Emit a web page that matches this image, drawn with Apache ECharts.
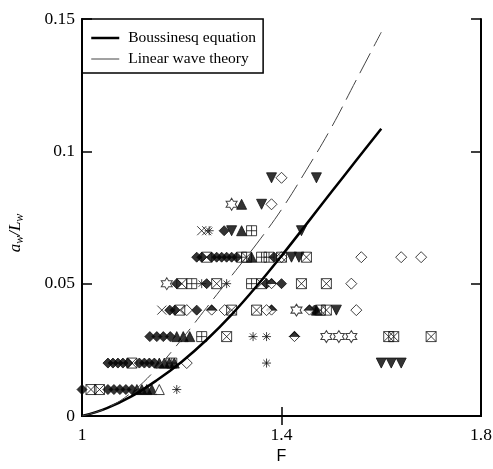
<!DOCTYPE html>
<html>
<head>
<meta charset="utf-8">
<script src="https://cdn.jsdelivr.net/npm/echarts@6/dist/echarts.min.js"></script>
<style>
  html, body { margin: 0; padding: 0; background: #fff; }
  #chart { width: 493px; height: 469px; }
</style>
</head>
<body>
<div id="chart"></div>
<script>
// curves
const curveF = [1, 1.05, 1.1, 1.15, 1.2, 1.25, 1.3, 1.35, 1.4, 1.45, 1.5, 1.55, 1.6];
const boussinesqA = [0, 0.003, 0.0075, 0.0135, 0.0205, 0.0288, 0.0383, 0.049, 0.0605, 0.0725, 0.0846, 0.0966, 0.1085];
const linearA = [0, 0.003, 0.009, 0.018, 0.029, 0.041, 0.053, 0.065, 0.078, 0.093, 0.109, 0.127, 0.145];

// measured points [F, aw/Lw], one list per marker
const diamondFilled = [
  [1.0, .01], [1.052, .01], [1.064, .01], [1.076, .01], [1.088, .01], [1.10, .01],
  [1.052, .02], [1.062, .02], [1.072, .02], [1.082, .02], [1.092, .02], [1.115, .02], [1.125, .02], [1.135, .02], [1.145, .02],
  [1.136, .03], [1.15, .03], [1.163, .03], [1.177, .03],
  [1.176, .04], [1.186, .04], [1.23, .04], [1.466, .04],
  [1.19, .05], [1.25, .05], [1.37, .05], [1.40, .05],
  [1.23, .06], [1.24, .06], [1.26, .06], [1.27, .06], [1.28, .06], [1.29, .06], [1.30, .06], [1.31, .06], [1.385, .06],
  [1.285, .07]
];
const diamondHalf = [[1.426, .03], [1.26, .04], [1.38, .04], [1.456, .04], [1.38, .05]];
const diamondOpen = [
  [1.21, .02], [1.21, .04], [1.286, .04], [1.37, .04], [1.55, .04], [1.54, .05],
  [1.40, .06], [1.56, .06], [1.64, .06], [1.68, .06], [1.38, .08], [1.40, .09]
];
const boxCross = [
  [1.018, .01], [1.035, .01], [1.10, .02],
  [1.29, .03], [1.615, .03], [1.625, .03], [1.70, .03],
  [1.196, .04], [1.30, .04], [1.35, .04], [1.478, .04], [1.49, .04],
  [1.20, .05], [1.27, .05], [1.36, .05], [1.44, .05], [1.49, .05],
  [1.25, .06], [1.33, .06], [1.40, .06], [1.45, .06]
];
const boxPlus = [[1.18, .02], [1.24, .03], [1.22, .05], [1.34, .05], [1.32, .06], [1.36, .06], [1.375, .06], [1.34, .07]];
const triUp = [
  [1.11, .01], [1.12, .01], [1.13, .01], [1.14, .01],
  [1.155, .02], [1.165, .02], [1.175, .02], [1.185, .02],
  [1.19, .03], [1.203, .03], [1.216, .03],
  [1.47, .04], [1.34, .06], [1.32, .07], [1.32, .08]
];
const triUpOpen = [[1.155, .01]];
const triDown = [
  [1.60, .02], [1.62, .02], [1.64, .02], [1.51, .04], [1.42, .06], [1.435, .06],
  [1.30, .07], [1.44, .07], [1.36, .08], [1.38, .09], [1.47, .09]
];
const hexStar = [[1.49, .03], [1.515, .03], [1.54, .03], [1.43, .04], [1.17, .05], [1.30, .08]];
const asterisk = [[1.19, .01], [1.37, .02], [1.343, .03], [1.37, .03], [1.24, .05], [1.29, .05], [1.255, .07]];
const crossX = [[1.16, .04], [1.24, .07], [1.25, .07]];

const xLabels = [1, 1.4, 1.8];

const P = {
  diamond: 'path://M5,0L10,5L5,10L0,5Z',
  diamondTop: 'path://M0,5L5,0L10,5Z',
  triangle: 'path://M5,0L10,10L0,10Z',
  boxX: 'path://M0,0H10V10H0Z M0,0L10,10 M10,0L0,10',
  boxPlus: 'path://M0,0H10V10H0Z M5,0V10 M0,5H10',
  star: 'path://M10,0L12.887,5L18.66,5L15.77,10L18.66,15L12.887,15L10,20L7.113,15L1.34,15L4.23,10L1.34,5L7.113,5Z',
  asterisk: 'path://M5,0V10 M0,5H10 M1.5,1.5L8.5,8.5 M8.5,1.5L1.5,8.5',
  cross: 'path://M0,0L10,10 M10,0L0,10'
};

function scatter(data, symbol, size, fill, extra) {
  return Object.assign({
    type: 'scatter',
    data: data,
    symbol: symbol,
    symbolSize: size,
    itemStyle: { color: fill, borderColor: '#111', borderWidth: 1 },
    emphasis: { disabled: true },
    z: 3
  }, extra || {});
}

function pairs(xs, ys) {
  return xs.map((x, i) => [x, ys[i]]);
}

const chart = echarts.init(document.getElementById('chart'));

const serif = 'Liberation Serif';

chart.setOption({
  animation: false,
  backgroundColor: '#fff',
  grid: { left: 82, right: 12, top: 19, bottom: 53, outerBoundsMode: 'none' },
  legend: {
    left: 82,
    top: 19,
    orient: 'vertical',
    borderColor: '#000',
    borderWidth: 1.5,
    padding: [11, 7, 6, 8],
    itemGap: 5,
    itemWidth: 28,
    itemHeight: 14,
    textStyle: { fontFamily: serif, fontSize: 15.5, color: '#000', padding: [0, 0, 0, 4] },
    data: [
      { name: 'Boussinesq equation', itemStyle: { opacity: 0 }, lineStyle: { width: 2.5, color: '#000', type: 'solid' } },
      { name: 'Linear wave theory', itemStyle: { opacity: 0 }, lineStyle: { width: 1, color: '#444', type: 'solid' } }
    ]
  },
  xAxis: [{
    type: 'value',
    min: 1,
    max: 1.8,
    position: 'bottom',
    axisLine: { lineStyle: { color: '#000', width: 2 } },
    axisTick: { inside: true, length: 9, customValues: [1.4], lineStyle: { color: '#000', width: 1.5 } },
    axisLabel: { customValues: xLabels, fontFamily: serif, fontSize: 17.5, color: '#000', margin: 10 },
    splitLine: { show: false },
    name: 'F',
    nameLocation: 'middle',
    nameGap: 28,
    nameTextStyle: { fontFamily: 'Liberation Sans', fontSize: 16, color: '#000' }
  }, {
    type: 'value',
    min: 1,
    max: 1.8,
    position: 'top',
    axisLine: { lineStyle: { color: '#000', width: 2 } },
    axisTick: { inside: true, length: 9, customValues: [1.4], lineStyle: { color: '#000', width: 1.5 } },
    axisLabel: { show: false },
    splitLine: { show: false }
  }],
  yAxis: [{
    type: 'value',
    min: 0,
    max: 0.15,
    interval: 0.05,
    position: 'left',
    axisLine: { show: true, lineStyle: { color: '#000', width: 2 } },
    axisTick: { show: true, inside: true, length: 10, lineStyle: { color: '#000', width: 1.5 } },
    axisLabel: {
      fontFamily: serif, fontSize: 17.5, color: '#000', margin: 7,
      formatter: v => String(+v.toFixed(2))
    },
    splitLine: { show: false }
  }, {
    type: 'value',
    min: 0,
    max: 0.15,
    interval: 0.05,
    position: 'right',
    axisLine: { show: true, lineStyle: { color: '#000', width: 2 } },
    axisTick: { show: true, inside: true, length: 10, lineStyle: { color: '#000', width: 1.5 } },
    axisLabel: { show: false },
    splitLine: { show: false }
  }],
  graphic: [{
    type: 'text',
    x: 16,
    y: 233,
    rotation: Math.PI / 2,
    style: {
      text: '{i|a}{s|w}{i|/L}{s|w}',
      align: 'center',
      verticalAlign: 'middle',
      rich: {
        i: { fontFamily: serif, fontStyle: 'italic', fontSize: 17, fill: '#000', lineHeight: 20 },
        s: { fontFamily: serif, fontStyle: 'italic', fontSize: 12, fill: '#000', lineHeight: 12, verticalAlign: 'bottom' }
      }
    }
  }],
  series: [
    scatter(diamondFilled, P.diamond, 10, '#000'),
    scatter(diamondHalf, P.diamond, 10, '#fff'),
    scatter(diamondHalf, P.diamondTop, [10, 5], '#000', { symbolOffset: [0, -2.5] }),
    scatter(diamondOpen, P.diamond, 11, '#fff'),
    scatter(boxCross, P.boxX, 10, 'rgba(0,0,0,0)'),
    scatter(boxPlus, P.boxPlus, 10, 'rgba(0,0,0,0)'),
    scatter(triUp, P.triangle, 10, '#000'),
    scatter(triUpOpen, P.triangle, 10, '#fff'),
    scatter(triDown, P.triangle, 10, '#000', { symbolRotate: 180 }),
    scatter(hexStar, P.star, [11, 12], '#fff'),
    scatter(asterisk, P.asterisk, 9, 'rgba(0,0,0,0)'),
    scatter(crossX, P.cross, 9, 'rgba(0,0,0,0)'),
    {
      name: 'Boussinesq equation',
      type: 'line',
      data: pairs(curveF, boussinesqA),
      smooth: 0.4,
      symbol: 'none',
      itemStyle: { color: '#000' },
      lineStyle: { color: '#000', width: 2.5 },
      z: 5
    },
    {
      name: 'Linear wave theory',
      type: 'line',
      data: pairs(curveF, linearA),
      smooth: 0.4,
      symbol: 'none',
      itemStyle: { color: '#444' },
      lineStyle: { color: '#444', width: 1, type: [22, 8] },
      z: 5
    }
  ]
});
</script>
</body>
</html>
